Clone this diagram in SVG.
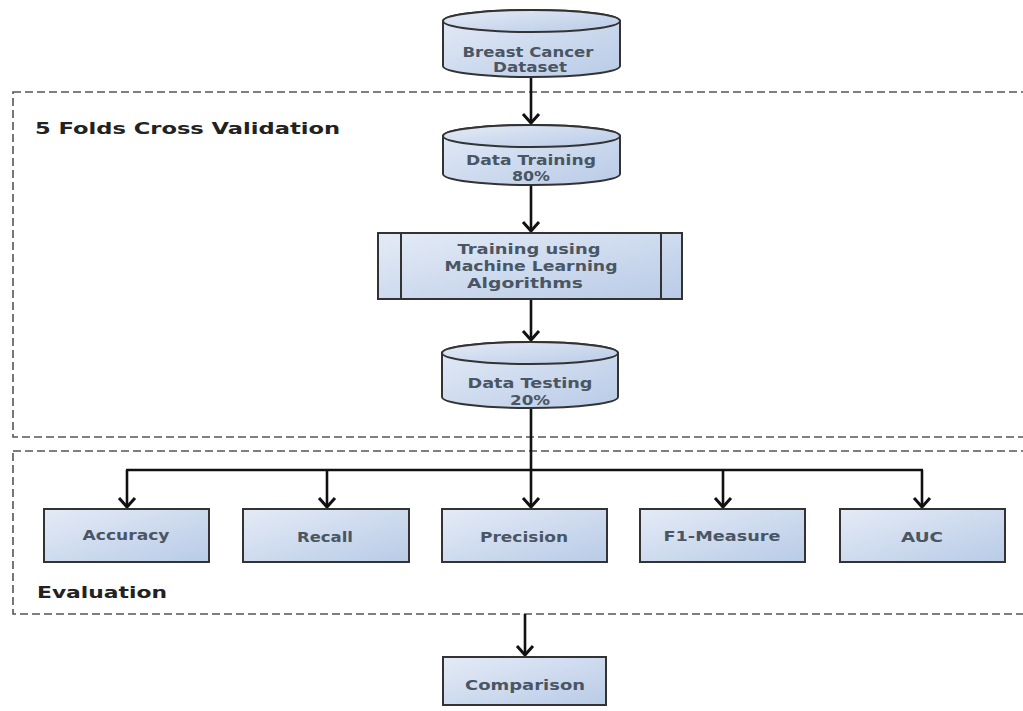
<svg xmlns="http://www.w3.org/2000/svg" width="1023" height="711" viewBox="0 0 1023 711">
<defs>
<linearGradient id="g" x1="0" y1="0" x2="1" y2="1">
<stop offset="0" stop-color="#e4ebf6"/>
<stop offset="1" stop-color="#b9cbe7"/>
</linearGradient>
<marker id="ah" viewBox="-12 -10 14 20" markerWidth="14" markerHeight="20" refX="0" refY="0" orient="auto" markerUnits="userSpaceOnUse">
<path d="M-9,-8 L0,0 L-9,8" fill="none" stroke="#111" stroke-width="3"/>
</marker>
<style>
.n{fill:url(#g);stroke:#333;stroke-width:2}
.t{font-family:"DejaVu Sans",sans-serif;font-size:14px;font-weight:bold;fill:#4a5663;text-anchor:middle}
.f{fill:none;stroke:#555;stroke-width:1.6;stroke-dasharray:8 4}
.h{font-family:"DejaVu Sans",sans-serif;font-size:16px;font-weight:bold;fill:#222}
.c{fill:none;stroke:#111;stroke-width:2.6}
</style>
</defs>
<rect width="1023" height="711" fill="#fff"/>
<g id="frames">
<rect class="f" x="13" y="92" width="1030" height="345"/>
<rect class="f" x="13" y="451" width="1030" height="163"/>
<text class="h" x="35" y="134" textLength="305" lengthAdjust="spacingAndGlyphs">5 Folds Cross Validation</text>
<text class="h" x="37" y="598" textLength="130" lengthAdjust="spacingAndGlyphs">Evaluation</text>
</g>
<g id="connectors">
<line class="c" x1="531" y1="77" x2="531" y2="123" marker-end="url(#ah)"/>
<line class="c" x1="531" y1="186" x2="531" y2="231" marker-end="url(#ah)"/>
<line class="c" x1="531" y1="299" x2="531" y2="340" marker-end="url(#ah)"/>
<polyline class="c" points="531,408 531,470"/>
<line class="c" x1="126" y1="470" x2="923" y2="470"/>
<line class="c" x1="127" y1="470" x2="127" y2="507" marker-end="url(#ah)"/>
<line class="c" x1="327" y1="470" x2="327" y2="507" marker-end="url(#ah)"/>
<line class="c" x1="531" y1="470" x2="531" y2="507" marker-end="url(#ah)"/>
<line class="c" x1="723" y1="470" x2="723" y2="507" marker-end="url(#ah)"/>
<line class="c" x1="922" y1="470" x2="922" y2="507" marker-end="url(#ah)"/>
<line class="c" x1="525" y1="614" x2="525" y2="655" marker-end="url(#ah)"/>
</g>
<g id="dataset">
<path class="n" d="M443,21 A88.5,11 0 0,1 620,21 L620,66 A88.5,11 0 0,1 443,66 Z"/>
<ellipse class="n" cx="531.5" cy="21" rx="88.5" ry="11"/>
<text class="t" x="528" y="57" textLength="131" lengthAdjust="spacingAndGlyphs">Breast Cancer</text>
<text class="t" x="530" y="72" textLength="74" lengthAdjust="spacingAndGlyphs">Dataset</text>
</g>
<g id="training">
<path class="n" d="M443,136 A88.5,11 0 0,1 620,136 L620,174 A88.5,11 0 0,1 443,174 Z"/>
<ellipse class="n" cx="531.5" cy="136" rx="88.5" ry="11"/>
<text class="t" x="531" y="165" textLength="130" lengthAdjust="spacingAndGlyphs">Data Training</text>
<text class="t" x="531" y="181" textLength="38" lengthAdjust="spacingAndGlyphs">80%</text>
</g>
<g id="ml">
<rect class="n" x="378" y="233" width="304" height="66"/>
<line x1="401" y1="233" x2="401" y2="299" stroke="#333" stroke-width="2"/>
<line x1="661" y1="233" x2="661" y2="299" stroke="#333" stroke-width="2"/>
<text class="t" x="529" y="254" textLength="143" lengthAdjust="spacingAndGlyphs">Training using</text>
<text class="t" x="531" y="271" textLength="173" lengthAdjust="spacingAndGlyphs">Machine Learning</text>
<text class="t" x="525" y="288" textLength="116" lengthAdjust="spacingAndGlyphs">Algorithms</text>
</g>
<g id="testing">
<path class="n" d="M442,353 A88,11 0 0,1 618,353 L618,397 A88,11 0 0,1 442,397 Z"/>
<ellipse class="n" cx="530" cy="353" rx="88" ry="11"/>
<text class="t" x="530" y="388" textLength="125" lengthAdjust="spacingAndGlyphs">Data Testing</text>
<text class="t" x="530" y="405" textLength="40" lengthAdjust="spacingAndGlyphs">20%</text>
</g>
<g id="accuracy">
<rect class="n" x="44" y="509" width="165" height="53"/>
<text class="t" x="126" y="540" textLength="87" lengthAdjust="spacingAndGlyphs">Accuracy</text>
</g>
<g id="recall">
<rect class="n" x="243" y="509" width="166" height="53"/>
<text class="t" x="325" y="542" textLength="56" lengthAdjust="spacingAndGlyphs">Recall</text>
</g>
<g id="precision">
<rect class="n" x="442" y="509" width="165" height="53"/>
<text class="t" x="524" y="542" textLength="88" lengthAdjust="spacingAndGlyphs">Precision</text>
</g>
<g id="f1">
<rect class="n" x="640" y="509" width="165" height="53"/>
<text class="t" x="722" y="541" textLength="117" lengthAdjust="spacingAndGlyphs">F1-Measure</text>
</g>
<g id="auc">
<rect class="n" x="840" y="509" width="165" height="53"/>
<text class="t" x="922" y="542" textLength="42" lengthAdjust="spacingAndGlyphs">AUC</text>
</g>
<g id="comparison">
<rect class="n" x="443" y="657" width="163" height="48"/>
<text class="t" x="525" y="690" textLength="120" lengthAdjust="spacingAndGlyphs">Comparison</text>
</g>
</svg>
